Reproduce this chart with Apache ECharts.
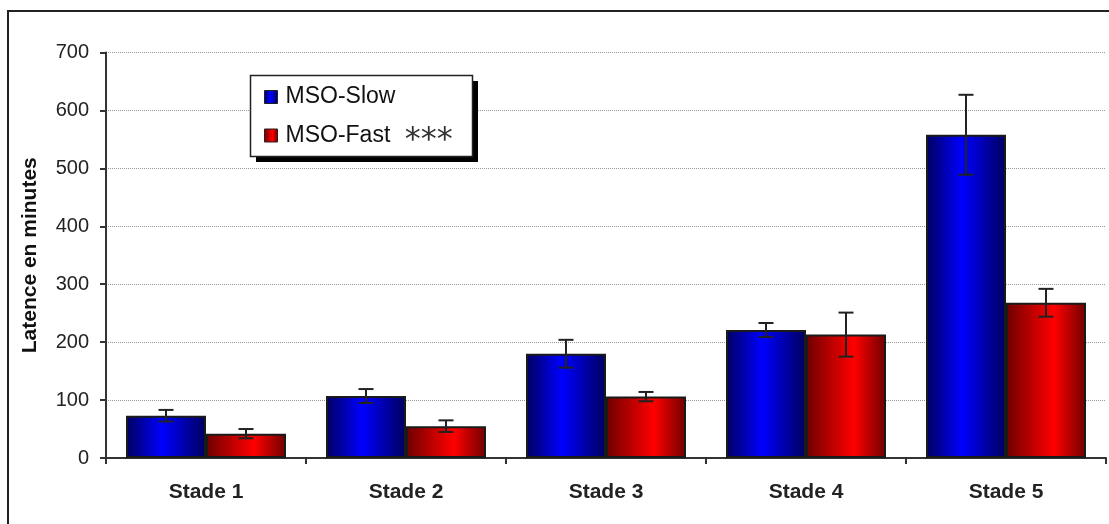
<!DOCTYPE html>
<html>
<head>
<meta charset="utf-8">
<script src="https://cdn.jsdelivr.net/npm/echarts@6/dist/echarts.min.js"></script>
<style>html,body{margin:0;padding:0;background:#fff}#c{width:1109px;height:524px}</style>
</head>
<body>
<div id="c"></div>
<script>
const categories = ['Stade 1', 'Stade 2', 'Stade 3', 'Stade 4', 'Stade 5'];
const slowValues = [73, 107, 180, 221, 558];
const slowErrors = [10, 12, 24, 12, 69];
const fastValues = [42, 55, 106, 213, 268];
const fastErrors = [8, 10, 8, 38, 24];
const yTicks = [0, 100, 200, 300, 400, 500, 600, 700];
const seriesNames = ['MSO-Slow', 'MSO-Fast ***'];

const FONT = "'Liberation Sans', Arial, sans-serif";
const chart = echarts.init(document.getElementById('c'), null, {renderer: 'canvas'});

function grad(dark, bright, mid) {
  return new echarts.graphic.LinearGradient(0, 0, 1, 0, [
    {offset: 0, color: dark},
    {offset: mid, color: bright},
    {offset: 1, color: dark}
  ]);
}

function errData(vals, errs) {
  return vals.map((v, i) => [i, v - errs[i], v + errs[i]]);
}

function errRender(side) {
  return function (params, api) {
    const x = api.value(0);
    const band = api.size([1, 0])[0];
    const bw = band * 0.8 / 2;
    const off = side * bw / 2;
    const lo = api.coord([x, api.value(1)]);
    const hi = api.coord([x, api.value(2)]);
    const cx = lo[0] + off;
    const cap = 7.5;
    const st = {stroke: '#222', lineWidth: 2};
    return {
      type: 'group',
      children: [
        {type: 'line', shape: {x1: cx, y1: lo[1], x2: cx, y2: hi[1]}, style: st},
        {type: 'line', shape: {x1: cx - cap, y1: lo[1], x2: cx + cap, y2: lo[1]}, style: st},
        {type: 'line', shape: {x1: cx - cap, y1: hi[1], x2: cx + cap, y2: hi[1]}, style: st}
      ]
    };
  };
}

const option = {
  animation: false,
  textStyle: {fontFamily: FONT},
  grid: {left: 106, right: 3, top: 52.5, bottom: 66, containLabel: false},
  graphic: [
    {type: 'polyline', shape: {points: [[8, 524], [8, 11], [1109, 11]]}, style: {stroke: '#222', lineWidth: 2, fill: null}, z: 0},
    {type: 'rect', shape: {x: 256, y: 81, width: 222, height: 81}, style: {fill: '#000'}, z: 1},
    {type: 'rect', shape: {x: 250.5, y: 75.5, width: 222, height: 81}, style: {fill: '#fff', stroke: '#222', lineWidth: 1.5}, z: 2}
  ],
  legend: {
    orient: 'vertical',
    left: 250,
    top: 75,
    padding: [9, 14, 9, 14],
    itemWidth: 13,
    itemHeight: 13,
    itemGap: 4,
    icon: 'rect',
    z: 10,
    data: seriesNames,
    formatter: function (name) {
      const i = name.indexOf('***');
      if (i < 0) return '{t|' + name + '}';
      return '{t|' + name.slice(0, i) + '}{s|' + name.slice(i) + '}';
    },
    textStyle: {
      fontFamily: FONT, fontSize: 23, color: '#111', lineHeight: 26,
      rich: {
        t: {fontFamily: FONT, fontSize: 23, color: '#111', lineHeight: 26, padding: [0, 0, 0, 3]},
        s: {fontFamily: "'DejaVu Sans', sans-serif", fontSize: 32, color: '#333', lineHeight: 26, padding: [11, 0, 0, 8]}
      }
    },
    itemStyle: {borderColor: '#222', borderWidth: 1}
  },
  xAxis: {
    type: 'category',
    data: categories,
    boundaryGap: true,
    axisLine: {lineStyle: {color: '#333', width: 2}},
    axisTick: {show: true, length: 6, lineStyle: {color: '#333', width: 2}},
    axisLabel: {fontFamily: FONT, fontSize: 21, fontWeight: 'bold', color: '#222', margin: 24}
  },
  yAxis: {
    type: 'value',
    min: yTicks[0],
    max: yTicks[yTicks.length - 1],
    interval: 100,
    name: 'Latence en minutes',
    nameLocation: 'middle',
    nameGap: 65,
    nameRotate: 90,
    nameTextStyle: {fontFamily: FONT, fontSize: 21, fontWeight: 'bold', color: '#111'},
    axisLine: {show: true, lineStyle: {color: '#333', width: 2}},
    axisTick: {show: true, length: 6, lineStyle: {color: '#333', width: 2}},
    axisLabel: {fontFamily: FONT, fontSize: 20, color: '#222', margin: 17},
    splitLine: {show: true, lineStyle: {color: '#999', type: 'dotted', width: 1}}
  },
  series: [
    {
      name: seriesNames[0],
      type: 'bar',
      data: slowValues,
      barGap: '0%',
      barCategoryGap: '20%',
      itemStyle: {color: grad('#00005e', '#0000ff', 0.45), borderColor: '#1a1a1a', borderWidth: 2},
      z: 3
    },
    {
      name: seriesNames[1],
      type: 'bar',
      data: fastValues,
      barGap: '0%',
      barCategoryGap: '20%',
      itemStyle: {color: grad('#6e0000', '#ff0000', 0.6), borderColor: '#1a1a1a', borderWidth: 2},
      z: 3
    },
    {
      type: 'custom',
      name: 'errSlow',
      data: errData(slowValues, slowErrors),
      encode: {x: 0, y: [1, 2]},
      renderItem: errRender(-1),
      z: 5
    },
    {
      type: 'custom',
      name: 'errFast',
      data: errData(fastValues, fastErrors),
      encode: {x: 0, y: [1, 2]},
      renderItem: errRender(1),
      z: 5
    }
  ]
};
chart.setOption(option);
</script>
</body>
</html>
